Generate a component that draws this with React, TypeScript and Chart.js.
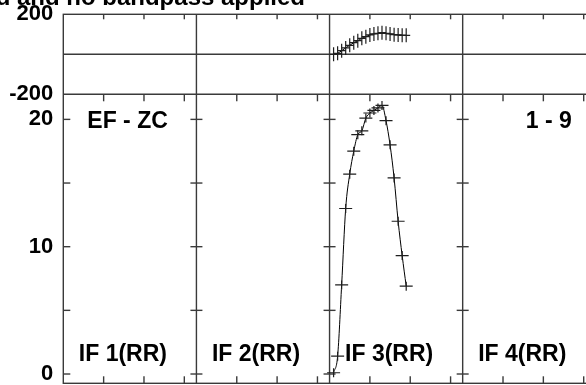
import React, { useEffect, useRef } from 'react';
import { Chart, registerables } from 'chart.js';

Chart.register(...registerables);

// ---- data ----
const PANEL_CHANNELS = 33; // channel span of each IF panel
const ifLabels = ['IF 1(RR)', 'IF 2(RR)', 'IF 3(RR)', 'IF 4(RR)'];
const dataPanelIndex = 2; // IF 3 carries the data
const channels = [1, 2, 3, 4, 5, 6, 7, 8, 9, 10, 11, 12, 13, 14, 15, 16, 17, 18, 19];
const if3Amp = [0.1, 1.4, 7.0, 13.0, 15.7, 17.5, 18.8, 19.1, 20.1, 20.5, 20.7, 20.9, 21.1, 19.9, 18.0, 15.4, 12.0, 9.3, 6.9];
const if3Phase = [0, 5, 18, 32, 45, 58, 68, 80, 88, 97, 102, 105, 108, 105, 102, 98, 97, 95, 95];
const ampRange = [-0.73, 21.97];
const phaseRange = [-200, 200];
const ampTickLabels = [0, 10, 20];
const ampTickMarks = [0, 5, 10, 15, 20];
const phaseTickLabels = [-200, 200];
const channelTicks = [10, 20, 30];
const baselineText = 'EF - ZC';
const timeText = '1 - 9';
const titleText = 'Calibrated and no bandpass applied';

const FONT = '"Liberation Sans", Arial, Helvetica, sans-serif';

const framePlugin = {
  id: 'aipsFrame',
  beforeDatasetsDraw(chart: any) {
    const { ctx, chartArea: a, scales } = chart;
    const x = scales.x, ya = scales.yAmp, yp = scales.yPhase;
    const line = (x1: number, y1: number, x2: number, y2: number) => {
      ctx.beginPath();
      ctx.moveTo(x1, y1);
      ctx.lineTo(x2, y2);
      ctx.stroke();
    };
    ctx.save();
    ctx.strokeStyle = '#3a3a3a';
    ctx.lineWidth = 1.4;
    ctx.strokeRect(a.left, a.top, a.right - a.left, a.bottom - a.top);
    line(a.left, yp.bottom, a.right, yp.bottom);
    const z = yp.getPixelForValue(0);
    line(a.left, z, a.right, z);
    for (let p = 1; p < ifLabels.length; p++) {
      const bx = x.getPixelForValue(p * PANEL_CHANNELS);
      line(bx, a.top, bx, a.bottom);
    }
    for (let p = 0; p < ifLabels.length; p++) {
      for (const t of channelTicks) {
        const px = x.getPixelForValue(p * PANEL_CHANNELS + t);
        line(px, a.top, px, a.top + 5);
        line(px, yp.bottom, px, yp.bottom + 7);
        line(px, a.bottom, px, a.bottom - 7);
      }
    }
    for (const v of ampTickMarks) {
      const py = ya.getPixelForValue(v);
      line(a.left, py, a.left + 7, py);
      for (let p = 1; p < ifLabels.length; p++) {
        const bx = x.getPixelForValue(p * PANEL_CHANNELS);
        line(bx - 6, py, bx + 6, py);
      }
      line(a.right - 7, py, a.right, py);
    }
    ctx.restore();
  },
  afterDatasetsDraw(chart: any) {
    const { ctx, chartArea: a, scales } = chart;
    const x = scales.x, ya = scales.yAmp;
    ctx.save();
    ctx.strokeStyle = '#1e1e1e';
    ctx.lineWidth = 1.2;
    const sizes = [
      [6.5, 4.5],
      [4, 7],
    ];
    chart.data.datasets.forEach((_: any, di: number) => {
      const meta = chart.getDatasetMeta(di);
      const [hw, hh] = sizes[di];
      for (const el of meta.data) {
        ctx.beginPath();
        ctx.moveTo(el.x - hw, el.y);
        ctx.lineTo(el.x + hw, el.y);
        ctx.moveTo(el.x, el.y - hh);
        ctx.lineTo(el.x, el.y + hh);
        ctx.stroke();
      }
    });
    ctx.fillStyle = '#000';
    ctx.font = `bold 23px ${FONT}`;
    ctx.textBaseline = 'alphabetic';
    ctx.textAlign = 'left';
    ctx.fillText(baselineText, a.left + 24, ya.top + 34);
    ctx.textAlign = 'right';
    ctx.fillText(timeText, a.right - 24, ya.top + 34);
    ctx.textAlign = 'left';
    for (let p = 0; p < ifLabels.length; p++) {
      const px = x.getPixelForValue(p * PANEL_CHANNELS);
      ctx.fillText(ifLabels[p], px + 15.5, a.bottom - 22);
    }
    ctx.font = `bold 24px ${FONT}`;
    ctx.textAlign = 'right';
    ctx.fillText(titleText, 305, 5);
    ctx.restore();
  },
};

const tickFont = { family: FONT, size: 22, weight: 'bold' as const };

export default function App() {
  const ref = useRef<HTMLCanvasElement | null>(null);
  useEffect(() => {
    if (!ref.current) return;
    const off = dataPanelIndex * PANEL_CHANNELS;
    const chart = new Chart(ref.current, {
      type: 'line',
      data: {
        datasets: [
          {
            label: 'Amplitude',
            data: channels.map((c, i) => ({ x: off + c, y: if3Amp[i] })),
            yAxisID: 'yAmp',
            borderColor: '#000',
            borderWidth: 1,
            pointRadius: 0,
            cubicInterpolationMode: 'monotone',
            fill: false,
          },
          {
            label: 'Phase',
            data: channels.map((c, i) => ({ x: off + c, y: if3Phase[i] })),
            yAxisID: 'yPhase',
            borderColor: '#000',
            borderWidth: 1,
            pointRadius: 0,
            cubicInterpolationMode: 'monotone',
            fill: false,
          },
        ],
      },
      options: {
        animation: false,
        responsive: false,
        devicePixelRatio: 1,
        layout: { padding: { left: 0, top: 14.3, right: 4.2, bottom: 1.7 } },
        plugins: { legend: { display: false }, tooltip: { enabled: false }, title: { display: false } },
        scales: {
          x: {
            type: 'linear',
            min: 0,
            max: ifLabels.length * PANEL_CHANNELS,
            display: false,
          },
          yAmp: {
            type: 'linear',
            position: 'left',
            stack: 'panels',
            stackWeight: 289,
            min: ampRange[0],
            max: ampRange[1],
            grid: { display: false, drawTicks: false },
            border: { display: false },
            ticks: { font: tickFont, color: '#000', padding: 10, autoSkip: false },
            afterBuildTicks: (s: any) => {
              s.ticks = ampTickLabels.map((v) => ({ value: v }));
            },
            afterFit: (s: any) => {
              s.width = 63.3;
              s.paddingTop = 0;
              s.paddingBottom = 0;
            },
          },
          yPhase: {
            type: 'linear',
            position: 'left',
            stack: 'panels',
            stackWeight: 80,
            min: phaseRange[0],
            max: phaseRange[1],
            grid: { display: false, drawTicks: false },
            border: { display: false },
            ticks: { font: tickFont, color: '#000', padding: 10, autoSkip: false },
            afterBuildTicks: (s: any) => {
              s.ticks = phaseTickLabels.map((v) => ({ value: v }));
            },
            afterFit: (s: any) => {
              s.width = 63.3;
              s.paddingTop = 0;
              s.paddingBottom = 0;
            },
          },
        },
      } as any,
      plugins: [framePlugin],
    });
    return () => chart.destroy();
  }, []);
  return (
    <div style={{ position: 'fixed', left: 0, top: 0, width: 586, height: 385, overflow: 'hidden', background: '#fff' }}>
      <canvas ref={ref} width={600} height={385} style={{ width: 600, height: 385, display: 'block' }} />
    </div>
  );
}
